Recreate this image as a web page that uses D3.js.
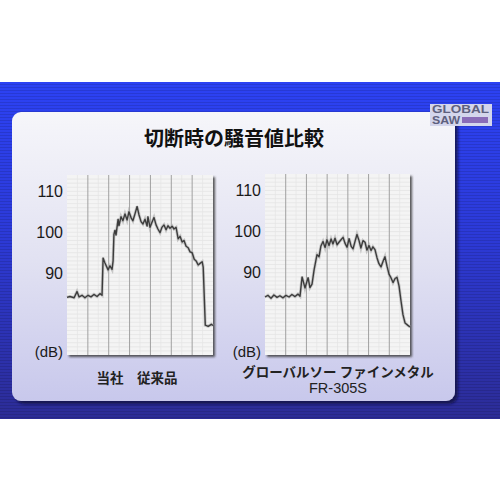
<!DOCTYPE html>
<html lang="ja">
<head>
    <meta charset="utf-8">
    <script src="https://d3js.org/d3.v7.min.js"></script>
    <style>
        body { margin: 0; background: #fff; }
        text { font-family: "Liberation Sans", Arial, sans-serif; }
        .jp { font-family: "Noto Sans CJK JP", sans-serif; }
    </style>
</head>
<body>
<div id="my_dataviz"></div>
<script>

// time along the recording (grid columns of 10) and noise level in dB
const ourTime = [0,1.4,3.4,4.8,5.8,7.2,8.6,10.1,11.5,12.9,14.4,15.8,16.8,17.3,18.2,19.7,20.6,21.6,22.1,22.5,23,23.5,24.5,24.9,25.9,26.8,27.8,28.8,29.7,30.7,31.6,32.6,33.6,34.5,35.5,36.4,37.4,38.4,38.8,39.8,40.8,41.7,42.7,43.6,44.6,45.5,46.5,47.5,48.4,49.4,50.4,51.3,52.3,53.3,54.2,55.2,56.1,57.1,58.1,59,60,61,61.9,62.9,63.8,64.8,65.3,66.3,67.7,69.2,70];
const ourDb   = [84.1,84.3,84,85.5,84.2,84.6,84,84.6,84.2,84.8,84.3,85,84.6,93.7,92.5,90.8,91.8,90.9,93,99.5,100.5,99.3,103.2,101.6,103.8,102.8,104.5,103,105,103.6,102.8,104.5,106.3,104.3,102.6,102,103.2,101.5,103.8,101.2,102.5,103.6,101.8,100.8,99.9,101.2,101.8,100.6,101.6,101,101.5,100.8,101.2,98.4,99,97.6,98,96.6,96.2,95.2,95,93.4,93,92,92.4,92.8,91.5,77.3,77,77.5,77.2];

const fineTime = [0,1.4,2.9,4.3,5.8,7.2,8.7,10.1,11.6,13,14.5,15.9,16.9,17.9,19.3,20.8,21.7,22.7,23.7,25.1,26.1,27,28,29,29.9,30.9,31.9,32.8,33.8,34.8,35.7,36.7,37.7,38.6,39.6,40.6,41.6,42.5,43.4,44.4,45.4,46.3,47.3,48.3,49.2,50.2,51.2,52.1,53.1,54.1,55,56,57,57.9,58.9,59.9,60.8,61.8,62.8,63.7,64.7,65.7,66.6,67.6,69,70];
const fineDb   = [84.1,84.5,83.8,84.6,84,84.4,83.9,84.5,84.1,84.7,84.2,84.8,84.3,89,86.3,88.8,86.4,87.2,90.7,94.4,93.9,96.5,97.6,96.1,98,96.6,98.2,97,98.4,96.8,97.4,98,98.6,97.2,96.2,98.3,96.4,95.8,97.5,99.3,97.8,96,97.8,97.4,95.5,96.6,95.4,96.3,95.6,93.6,92.2,91.4,92.8,93.9,91.6,89.6,88.8,87.6,88.6,88.9,86.8,83,79.8,77.8,77.2,76.8];

const tickValues = [90, 100, 110];
const unitLabel = "(dB)";
const title = "切断時の騒音値比較";
const captionLeft = ["当社　従来品"];
const captionRight = ["グローバルソー ファインメタル", "FR-305S"];

const width = 500, height = 500;

const svg = d3.select("#my_dataviz").append("svg")
    .attr("width", width)
    .attr("height", height);

const defs = svg.append("defs");

// blue backdrop gradient
const bg = defs.append("linearGradient").attr("id", "bg")
    .attr("x1", 0).attr("y1", 0).attr("x2", 0).attr("y2", 1);
bg.append("stop").attr("offset", "0%").attr("stop-color", "#2c42f4");
bg.append("stop").attr("offset", "45%").attr("stop-color", "#2c3ad8");
bg.append("stop").attr("offset", "100%").attr("stop-color", "#2c2c96");

// panel gradient
const pg = defs.append("linearGradient").attr("id", "panel")
    .attr("x1", 0).attr("y1", 0).attr("x2", 0).attr("y2", 1);
pg.append("stop").attr("offset", "0%").attr("stop-color", "#f6f6fa");
pg.append("stop").attr("offset", "50%").attr("stop-color", "#e2e2f2");
pg.append("stop").attr("offset", "100%").attr("stop-color", "#c8c8ec");

// horizontal stripes on the blue
const stripes = defs.append("pattern").attr("id", "stripes")
    .attr("width", 4).attr("height", 3).attr("patternUnits", "userSpaceOnUse");
stripes.append("rect").attr("width", 4).attr("height", 1).attr("fill", "#000").attr("opacity", 0.12);

const shadow = defs.append("filter").attr("id", "shadow")
    .attr("x", "-5%").attr("y", "-5%").attr("width", "115%").attr("height", "115%");
shadow.append("feDropShadow").attr("dx", 3).attr("dy", 3).attr("stdDeviation", 1.5)
    .attr("flood-color", "#101040").attr("flood-opacity", 0.8);

const plotShadow = defs.append("filter").attr("id", "plotShadow")
    .attr("x", "-5%").attr("y", "-5%").attr("width", "115%").attr("height", "115%");
plotShadow.append("feDropShadow").attr("dx", 2).attr("dy", 2).attr("stdDeviation", 1)
    .attr("flood-color", "#333").attr("flood-opacity", 0.8);

// background
svg.append("rect").attr("x", 0).attr("y", 82).attr("width", width).attr("height", 337).attr("fill", "url(#bg)");
svg.append("rect").attr("x", 0).attr("y", 82).attr("width", width).attr("height", 337).attr("fill", "url(#stripes)");

// panel
svg.append("rect")
    .attr("x", 12).attr("y", 112).attr("width", 443).attr("height", 289)
    .attr("rx", 9)
    .attr("fill", "url(#panel)")
    .attr("filter", "url(#shadow)");

// logo
const logo = svg.append("g");
logo.append("rect").attr("x", 430).attr("y", 104).attr("width", 62).attr("height", 22).attr("fill", "#d4d6ec");
logo.append("text").attr("x", 432).attr("y", 113).text("GLOBAL")
    .attr("textLength", 57).attr("lengthAdjust", "spacingAndGlyphs")
    .style("font-size", "10px").style("font-weight", "bold").attr("fill", "#5e607e");
logo.append("text").attr("x", 432).attr("y", 124).text("SAW")
    .attr("textLength", 28).attr("lengthAdjust", "spacingAndGlyphs")
    .style("font-size", "10px").style("font-weight", "bold").attr("fill", "#5e607e");
logo.append("rect").attr("x", 462).attr("y", 117).attr("width", 26).attr("height", 6).attr("fill", "#8a6cb8");

// title
svg.append("text")
    .attr("class", "jp")
    .attr("x", 234).attr("y", 146)
    .attr("text-anchor", "middle")
    .style("font-size", "20px").style("font-weight", "bold")
    .attr("fill", "#111")
    .text(title);

function drawChart(left, right, top, time, db, labelX) {
    const x = d3.scaleLinear().domain([0, 70]).range([left, right]);
    const y = d3.scaleLinear().domain([70, 114]).range([355, top]);
    const g = svg.append("g");

    g.append("rect")
        .attr("x", left).attr("y", top)
        .attr("width", right - left).attr("height", 355 - top)
        .attr("fill", "#f4f4f4")
        .attr("filter", "url(#plotShadow)");

    // faint grid
    g.selectAll(".hminor").data(d3.range(71, 114)).enter().append("line")
        .attr("x1", left).attr("x2", right)
        .attr("y1", d => y(d)).attr("y2", d => y(d))
        .attr("stroke", "#e2e2e2").attr("stroke-width", 0.7);
    g.selectAll(".vminor").data(d3.range(5, 70, 10)).enter().append("line")
        .attr("x1", d => x(d)).attr("x2", d => x(d))
        .attr("y1", top).attr("y2", 355)
        .attr("stroke", "#e4e4e4").attr("stroke-width", 0.7);
    g.selectAll(".vmajor").data(d3.range(10, 70, 10)).enter().append("line")
        .attr("x1", d => x(d)).attr("x2", d => x(d))
        .attr("y1", top).attr("y2", 355)
        .attr("stroke", "#a0a0a0").attr("stroke-width", 1);

    const pts = time.map((t, i) => [t, db[i]]);
    const line = d3.line().x(d => x(d[0])).y(d => y(d[1]));
    g.append("path").datum(pts).attr("d", line)
        .attr("fill", "none").attr("stroke", "#aaa").attr("stroke-width", 3).attr("opacity", 0.6);
    g.append("path").datum(pts).attr("d", line)
        .attr("fill", "none").attr("stroke", "#3c3c3c").attr("stroke-width", 1.4)
        .attr("stroke-linejoin", "round");

    // y labels
    const axis = d3.axisLeft(y).tickValues(tickValues).tickSize(0).tickPadding(0);
    const ax = g.append("g").attr("transform", `translate(${labelX},0)`).call(axis);
    ax.select(".domain").remove();
    ax.selectAll("text").style("font-size", "16px").attr("fill", "#1a1a1a").attr("font-family", null);

    g.append("text")
        .attr("x", labelX).attr("y", 357)
        .attr("text-anchor", "end")
        .style("font-size", "15px").attr("fill", "#1a1a1a")
        .text(unitLabel);
}

drawChart(67, 213, 175, ourTime, ourDb, 63);
drawChart(265, 410, 174, fineTime, fineDb, 261);

// captions
svg.append("text").attr("class", "jp")
    .attr("x", 137).attr("y", 383).attr("text-anchor", "middle")
    .style("font-size", "13.5px").style("font-weight", "bold").attr("fill", "#222")
    .text(captionLeft[0]);

svg.append("g").selectAll("text").data(captionRight).enter().append("text")
    .attr("class", (d, i) => i === 0 ? "jp" : null)
    .attr("x", 338).attr("y", (d, i) => 377 + i * 16)
    .attr("text-anchor", "middle")
    .style("font-size", (d, i) => i === 0 ? "13.5px" : "14.5px")
    .style("font-weight", (d, i) => i === 0 ? "bold" : "normal")
    .attr("fill", "#222")
    .text(d => d);
</script>
</body>
</html>
